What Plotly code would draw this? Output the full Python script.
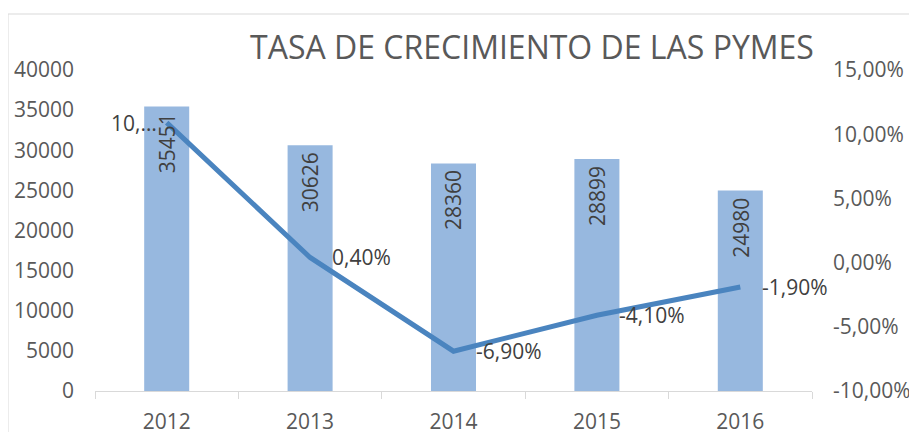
import plotly.graph_objects as go

years = ["2012", "2013", "2014", "2015", "2016"]
pymes = [35451, 30626, 28360, 28899, 24980]
growth = [0.109, 0.004, -0.069, -0.041, -0.019]
growth_labels = ["10,…", "0,40%", "-6,90%", "-4,10%", "-1,90%"]

left_ticks = [0, 5000, 10000, 15000, 20000, 25000, 30000, 35000, 40000]
right_ticks = [-0.10, -0.05, 0.0, 0.05, 0.10, 0.15]
right_tick_text = ["-10,00%", "-5,00%", "0,00%", "5,00%", "10,00%", "15,00%"]

title = "TASA DE CRECIMIENTO DE LAS PYMES"

FONT = "Open Sans"
AX = "#595959"
LBL = "#404040"

# page body adds an 8px offset; plot area in window: x 95..812, y 70..391
L, R, T, B = 87, 113, 62, 49

fig = go.Figure()
fig.add_trace(go.Bar(x=years, y=pymes, marker=dict(color="#97B8DF", line=dict(width=0)),
                     showlegend=False, hoverinfo="skip"))
fig.add_trace(go.Scatter(x=years, y=growth, yaxis="y2", mode="lines",
                         line=dict(color="#4A84BF", width=5), showlegend=False,
                         hoverinfo="skip"))

anns = []
for i, v in enumerate(pymes):
    anns.append(dict(x=i, y=v, xref="x", yref="y", text=str(v), textangle=-90,
                     showarrow=False, xanchor="center", yanchor="top", yshift=-5,
                     font=dict(family=FONT, size=21, color=LBL)))
for i, (v, t) in enumerate(zip(growth, growth_labels)):
    if i == 0:
        anns.append(dict(x=i, y=v, xref="x", yref="y2", text=t, showarrow=False,
                         xanchor="right", yanchor="middle", xshift=-8,
                         font=dict(family=FONT, size=21, color=LBL)))
    else:
        anns.append(dict(x=i, y=v, xref="x", yref="y2", text=t, showarrow=False,
                         xanchor="left", yanchor="middle", xshift=20,
                         font=dict(family=FONT, size=21, color=LBL)))

plot_w = 917 - L - R
plot_h = 432 - T - B

fig.update_layout(
    width=917, height=432,
    margin=dict(l=L, r=R, t=T, b=B, pad=0),
    paper_bgcolor="white", plot_bgcolor="white",
    bargap=0.686,
    font=dict(family=FONT, size=21, color=AX),
    title=dict(text=title, x=(524 - L) / plot_w, xref="paper", xanchor="center",
               y=1 - 40 / 432, yref="container", yanchor="middle",
               font=dict(family=FONT, size=32, color=AX)),
    xaxis=dict(type="category", range=[-0.5, 4.5], showgrid=False, showline=True,
               linecolor="#D9D9D9", linewidth=1, ticks="outside", tickson="boundaries",
               ticklen=7, tickcolor="#D9D9D9", ticklabelstandoff=12, zeroline=False,
               automargin=False, tickangle=0,
               tickfont=dict(family=FONT, size=21, color=AX)),
    yaxis=dict(range=[0, 40000], tickvals=left_ticks, tickformat="d", showgrid=False,
               zeroline=False, showline=False, ticks="", ticklabelstandoff=20,
               automargin=False,
               tickfont=dict(family=FONT, size=21, color=AX)),
    yaxis2=dict(range=[-0.10, 0.15], overlaying="y", side="right", tickvals=right_ticks,
                ticktext=right_tick_text, showgrid=False, zeroline=False, showline=False,
                ticks="", ticklabelstandoff=20, automargin=False,
                tickfont=dict(family=FONT, size=21, color=AX)),
    annotations=anns,
    shapes=[dict(type="rect", xref="paper", yref="paper",
                 x0=(0 - L) / plot_w, x1=2, y0=-1, y1=(T + plot_h - 6) / plot_h,
                 line=dict(color="#D9D9D9", width=1), fillcolor="rgba(0,0,0,0)",
                 layer="below")],
)

fig.write_html("out.html")
